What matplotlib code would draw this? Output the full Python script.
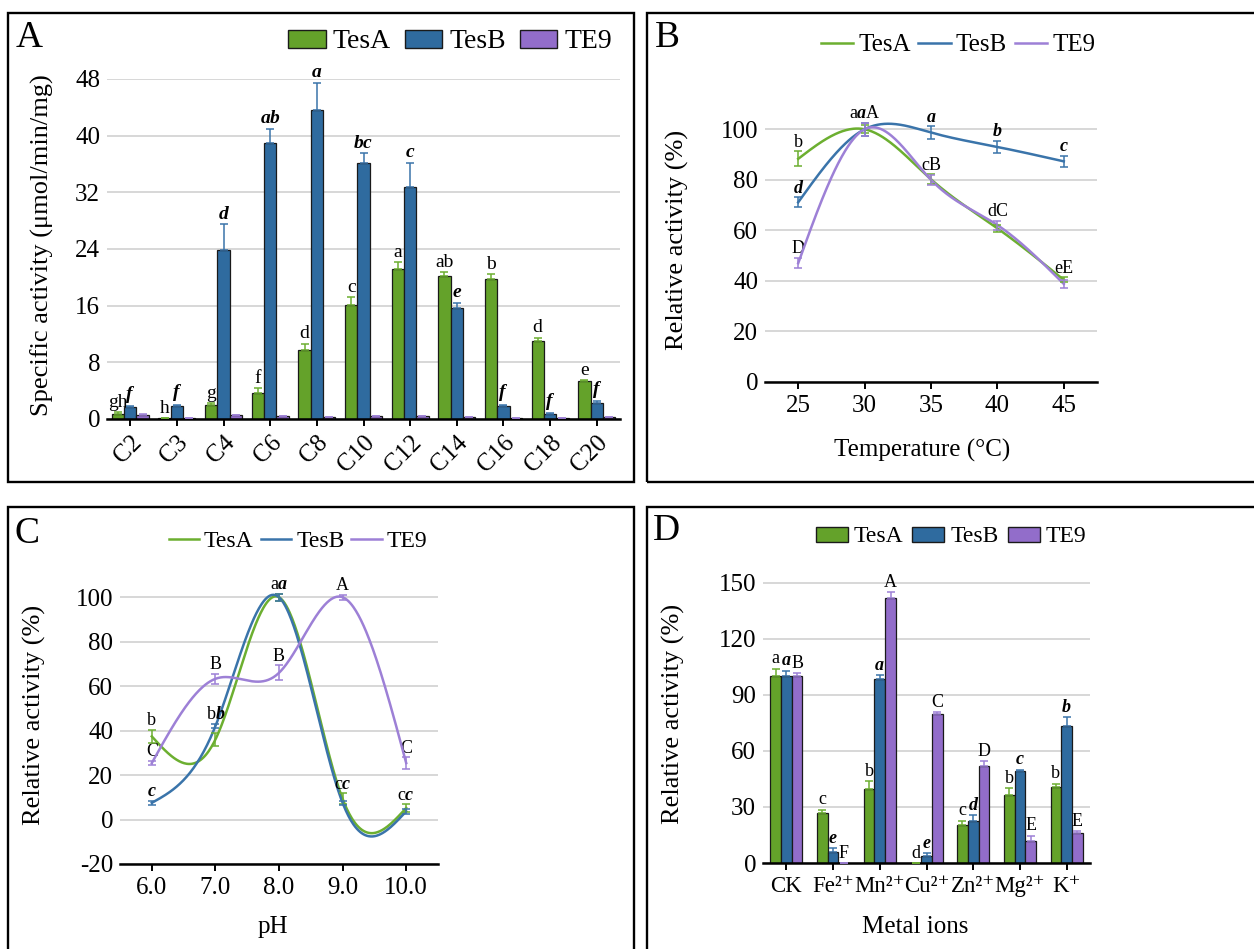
import numpy as np
import matplotlib.pyplot as plt
from matplotlib.patches import Rectangle, Patch
from matplotlib.lines import Line2D

plt.rcParams['font.family'] = ['Liberation Serif', 'DejaVu Serif']
plt.rcParams['axes.unicode_minus'] = False
plt.rcParams['mathtext.fontset'] = 'custom'
plt.rcParams['mathtext.rm'] = 'Liberation Serif'
plt.rcParams['mathtext.it'] = 'Liberation Serif:italic'
plt.rcParams['mathtext.bf'] = 'Liberation Serif:bold'
plt.rcParams['mathtext.bfit'] = 'Liberation Serif:bold:italic'

# ---- data ----
series = ['TesA', 'TesB', 'TE9']

# A: substrate specificity
substrates = ['C2', 'C3', 'C4', 'C6', 'C8', 'C10', 'C12', 'C14', 'C16', 'C18', 'C20']
a_tesA = [0.75, 0.1, 1.97, 3.67, 9.73, 16.1, 21.2, 20.2, 19.7, 11.0, 5.4]
a_tesB = [1.74, 1.9, 23.9, 39.0, 43.6, 36.2, 32.8, 15.7, 1.9, 0.75, 2.3]
a_te9 = [0.6, 0.1, 0.56, 0.38, 0.3, 0.4, 0.4, 0.28, 0.14, 0.15, 0.23]
a_err_tesA = [0.2, 0.05, 0.3, 0.7, 0.9, 1.1, 0.9, 0.5, 0.7, 0.5, 0.1]
a_err_tesB = [0.1, 0.1, 3.6, 2.0, 3.9, 1.3, 3.4, 0.7, 0.1, 0.1, 0.2]
a_err_te9 = [0.05] * 11
a_let_tesA = ['gh', 'h', 'g', 'f', 'd', 'c', 'a', 'ab', 'b', 'd', 'e']
a_let_tesB = ['f', 'f', 'd', 'ab', 'a', 'bc', 'c', 'e', 'f', 'f', 'f']

# B: temperature
temps = [25, 30, 35, 40, 45]
b_tesA = [88.3, 100, 80.2, 60.8, 40.4]
b_tesB = [71.1, 100, 98.7, 93.0, 87.3]
b_te9 = [47.0, 100, 80.0, 62.1, 38.8]
b_err_tesA = [3, 1.5, 2, 1.5, 1]
b_err_tesB = [2, 2.5, 2.5, 2.5, 2.3]
b_err_te9 = [2, 2.5, 2, 1.8, 1.5]
b_let_tesA = ['b', 'a', 'c', 'd', 'e']
b_let_tesB = ['d', 'a', 'a', 'b', 'c']
b_let_te9 = ['D', 'A', 'B', 'C', 'E']

# C: pH
ph = [6, 7, 8, 9, 10]
ph_labels = ['6.0', '7.0', '8.0', '9.0', '10.0']
c_tesA = [37.4, 36.0, 100, 9.3, 5.2]
c_tesB = [7.5, 42.0, 100, 7.5, 3.7]
c_te9 = [25.4, 63.3, 66.0, 100, 25.4]
c_err_tesA = [3, 3, 1.5, 2.5, 1.7]
c_err_tesB = [1, 1, 1.5, 1, 1]
c_err_te9 = [1, 2.3, 3.4, 1.2, 2.6]
c_let_tesA = ['b', 'b', 'a', 'c', 'c']
c_let_tesB = ['c', 'b', 'a', 'c', 'c']
c_let_te9 = ['C', 'B', 'B', 'A', 'C']

# D: metal ions
ions = ['CK', 'Fe²⁺', 'Mn²⁺', 'Cu²⁺', 'Zn²⁺', 'Mg²⁺', 'K⁺']
d_tesA = [100, 26.8, 39.8, 0, 20.5, 36.6, 40.7]
d_tesB = [100, 5.7, 98.4, 3.9, 22.5, 49.0, 73.3]
d_te9 = [100, 0, 141.8, 79.7, 52.1, 11.6, 16.1]
d_err_tesA = [4, 1.7, 3.9, 0, 2.1, 3.5, 1.7]
d_err_tesB = [3, 2.3, 2.0, 1.5, 3.2, 0.9, 4.6]
d_err_te9 = [1.7, 0, 3.2, 1.1, 2.3, 3.0, 0.8]
d_let_tesA = ['a', 'c', 'b', 'd', 'c', 'b', 'b']
d_let_tesB = ['a', 'e', 'a', 'e', 'd', 'c', 'b']
d_let_te9 = ['B', 'F', 'A', 'C', 'D', 'E', 'E']

bar_colors = ['#64a22a', '#2f6b9f', '#926dca']
line_colors = ['#6caf30', '#3a74aa', '#9d80d6']
err_colors = ['#6caf30', '#3a74aa', '#9d80d6']

W, H = 1254, 949
fig = plt.figure(figsize=(W / 100, H / 100), dpi=100)


def px_axes(l, t, r, b):
    return fig.add_axes([l / W, 1 - b / H, (r - l) / W, (b - t) / H])


def fig_xy(x, y):
    return x / W, 1 - y / H


def fmt(letter, k):
    # TesB letters are bold italic
    if k == 1:
        return r'$\mathbfit{%s}$' % letter
    return letter


def style(ax, yticks):
    for s in ['left', 'right', 'top']:
        ax.spines[s].set_visible(False)
    ax.spines['bottom'].set_linewidth(1.8)
    ax.set_yticks(yticks)
    ax.yaxis.grid(True, color='#cdcdcd', lw=1.1)
    ax.set_axisbelow(True)
    ax.tick_params(axis='y', length=0, pad=5, labelsize=18)
    ax.tick_params(axis='x', direction='out', length=5, width=1.4, labelsize=18, pad=4)


def natural_spline(x, y, n=300):
    x = np.asarray(x, float)
    y = np.asarray(y, float)
    k = len(x)
    h = np.diff(x)
    A = np.zeros((k, k))
    r = np.zeros(k)
    A[0, 0] = A[-1, -1] = 1
    for i in range(1, k - 1):
        A[i, i - 1] = h[i - 1]
        A[i, i] = 2 * (h[i - 1] + h[i])
        A[i, i + 1] = h[i]
        r[i] = 6 * ((y[i + 1] - y[i]) / h[i] - (y[i] - y[i - 1]) / h[i - 1])
    M = np.linalg.solve(A, r)
    xs = np.linspace(x[0], x[-1], n)
    idx = np.clip(np.searchsorted(x, xs) - 1, 0, k - 2)
    x0, x1 = x[idx], x[idx + 1]
    hh = x1 - x0
    t0, t1 = x1 - xs, xs - x0
    ys = (M[idx] * t0 ** 3 + M[idx + 1] * t1 ** 3) / (6 * hh) \
        + (y[idx] / hh - M[idx] * hh / 6) * t0 + (y[idx + 1] / hh - M[idx + 1] * hh / 6) * t1
    return xs, ys


def bar_panel(ax, cats, vals, errs, lets, width, size):
    x = np.arange(len(cats))
    for k in range(3):
        pos = x + (k - 1) * width
        ax.bar(pos, vals[k], width, color=bar_colors[k], edgecolor='#1a1a1a', lw=0.9, zorder=2)
        ax.errorbar(pos, vals[k], yerr=[np.zeros(len(cats)), errs[k]], fmt='none',
                    ecolor=err_colors[k], elinewidth=1.1, capsize=3, capthick=1.1, zorder=3)
        if lets[k] is None:
            continue
        for p, v, e, t in zip(pos, vals[k], errs[k], lets[k]):
            ax.annotate(fmt(t, k), (p, v + e), xytext=(0, 1), textcoords='offset points',
                        ha='center', va='bottom', fontsize=size, annotation_clip=False)
    ax.set_xticks(x)
    ax.set_xlim(-0.5, len(cats) - 0.5)


def line_panel(ax, xs, vals, errs, lets, thresh, size):
    for k in range(3):
        sx, sy = natural_spline(xs, vals[k])
        ax.plot(sx, sy, color=line_colors[k], lw=1.8, zorder=2 + k)
        ax.errorbar(xs, vals[k], yerr=errs[k], fmt='none', ecolor=err_colors[k],
                    elinewidth=1.1, capsize=3, capthick=1.1, zorder=5)
    for j, x in enumerate(xs):
        v = [vals[k][j] for k in range(3)]
        used = [False] * 3
        for i in range(3):
            if used[i]:
                continue
            grp = [k for k in range(3) if not used[k] and abs(v[k] - v[i]) < thresh]
            for k in grp:
                used[k] = True
            text = ''.join(fmt(lets[k][j], k) for k in grp)
            top = max(v[k] + errs[k][j] for k in grp)
            ax.annotate(text, (x, top), xytext=(0, 0.5), textcoords='offset points',
                        ha='center', va='bottom', fontsize=size, annotation_clip=False)
    ax.set_xticks(xs)


# panel frames
for (l, t, r, b) in [(8, 13, 634, 482), (647, 13, 1262, 482), (8, 507, 634, 962), (647, 507, 1262, 962)]:
    fig.patches.append(Rectangle(fig_xy(l, b), (r - l) / W, (b - t) / H, transform=fig.transFigure,
                                 fill=False, edgecolor='black', lw=1.7))

bar_handles = [Patch(facecolor=bar_colors[k], edgecolor='#1a1a1a', lw=1.0, label=series[k]) for k in range(3)]
line_handles = [Line2D([], [], color=line_colors[k], lw=1.8, label=series[k]) for k in range(3)]

# ---- A ----
axA = px_axes(107, 79, 620, 419)
style(axA, np.arange(0, 49, 8))
axA.set_ylim(0, 48)
bar_panel(axA, substrates, [a_tesA, a_tesB, a_te9], [a_err_tesA, a_err_tesB, a_err_te9],
          [a_let_tesA, a_let_tesB, None], 0.265, 14)
axA.set_xticklabels(substrates, rotation=45, ha='right', rotation_mode='anchor')
fig.text(*fig_xy(42, 245), 'Specific activity (μmol/min/mg)', rotation=90, ha='center', va='center', fontsize=19)
fig.legend(handles=bar_handles, loc='center', bbox_to_anchor=fig_xy(450, 42), ncol=3, frameon=False,
           fontsize=20, handlelength=1.35, handleheight=0.6, handletextpad=0.25, columnspacing=0.5)

# ---- B ----
axB = px_axes(765, 104, 1097, 382)
style(axB, np.arange(0, 101, 20))
axB.set_ylim(0, 110)
line_panel(axB, temps, [b_tesA, b_tesB, b_te9], [b_err_tesA, b_err_tesB, b_err_te9],
           [b_let_tesA, b_let_tesB, b_let_te9], 8, 13)
axB.set_xlim(22.5, 47.5)
fig.text(*fig_xy(677, 240), 'Relative activity (%)', rotation=90, ha='center', va='center', fontsize=19)
fig.text(*fig_xy(922, 450), 'Temperature (°C)', ha='center', va='center', fontsize=18)
fig.legend(handles=line_handles, loc='center', bbox_to_anchor=fig_xy(958, 45), ncol=3, frameon=False,
           fontsize=18, handlelength=1.3, handletextpad=0.2, columnspacing=0.3)

# ---- C ----
axC = px_axes(120, 575, 438, 864)
style(axC, np.arange(-20, 101, 20))
axC.set_ylim(-20, 110)
line_panel(axC, ph, [c_tesA, c_tesB, c_te9], [c_err_tesA, c_err_tesB, c_err_te9],
           [c_let_tesA, c_let_tesB, c_let_te9], 8, 13)
axC.set_xlim(5.5, 10.5)
axC.set_xticklabels(ph_labels)
fig.text(*fig_xy(34, 715), 'Relative activity (%)', rotation=90, ha='center', va='center', fontsize=19)
fig.text(*fig_xy(273, 927), 'pH', ha='center', va='center', fontsize=18)
fig.legend(handles=line_handles, loc='center', bbox_to_anchor=fig_xy(298, 541), ncol=3, frameon=False,
           fontsize=17, handlelength=1.3, handletextpad=0.2, columnspacing=0.3)

# ---- D ----
axD = px_axes(763, 564, 1090, 863)
style(axD, np.arange(0, 151, 30))
axD.set_ylim(0, 160)
bar_panel(axD, ions, [d_tesA, d_tesB, d_te9], [d_err_tesA, d_err_tesB, d_err_te9],
          [d_let_tesA, d_let_tesB, d_let_te9], 0.23, 13)
axD.set_xticklabels(ions)
axD.tick_params(axis='x', labelsize=16.5)
fig.text(*fig_xy(673, 714), 'Relative activity (%)', rotation=90, ha='center', va='center', fontsize=19)
fig.text(*fig_xy(915, 927), 'Metal ions', ha='center', va='center', fontsize=18)
fig.legend(handles=bar_handles, loc='center', bbox_to_anchor=fig_xy(951, 537), ncol=3, frameon=False,
           fontsize=17, handlelength=1.35, handleheight=0.6, handletextpad=0.25, columnspacing=0.4)

# panel letters
for letter, (x, y) in zip('ABCD', [(16, 47), (655, 47), (15, 543), (653, 540)]):
    fig.text(*fig_xy(x, y), letter, fontsize=27, ha='left', va='baseline')

fig.savefig('out.png', dpi=100)
